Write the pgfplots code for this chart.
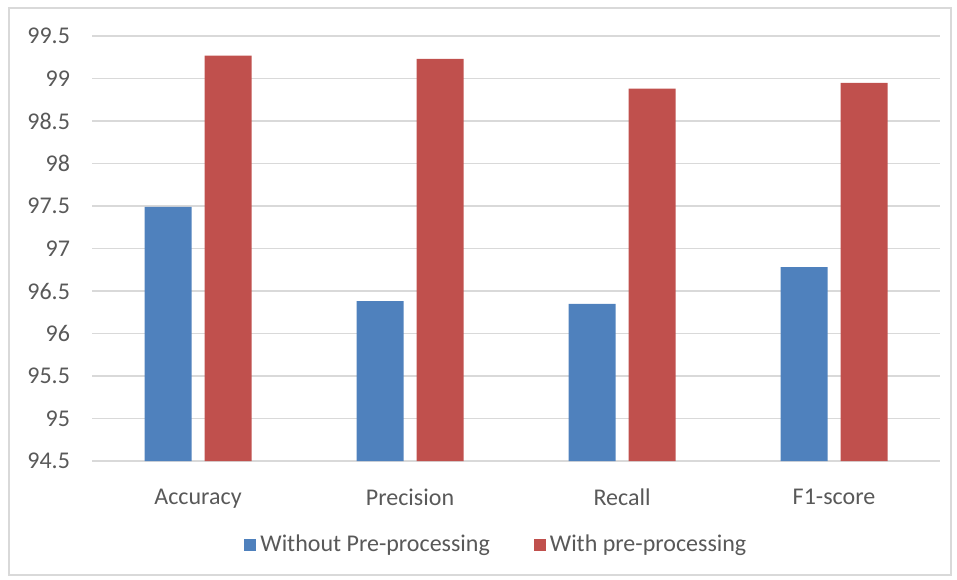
\documentclass[border=0pt]{standalone}
\usepackage{pgfplots}
\pgfplotsset{compat=1.18}
\usepackage{fontspec}
\setmainfont{Carlito}
\definecolor{cblue}{HTML}{4F81BD}
\definecolor{cred}{HTML}{C0504D}
\definecolor{cgrid}{HTML}{D9D9D9}
\definecolor{ctext}{HTML}{595959}
\begin{document}
\begin{tikzpicture}
\useasboundingbox (0,0) rectangle (478.5pt,289.5pt);
\draw[cgrid, line width=0.7pt] (4.5pt,2pt) rectangle (475.5pt,285.5pt);
\begin{axis}[
  at={(46pt,59pt)}, anchor=south west,
  scale only axis, width=424pt, height=212.5pt,
  ybar=6.5pt, bar width=23.5pt,
  xmin=-0.5, xmax=3.5, ymin=94.5, ymax=99.5,
  xtick={0,1,2,3},
  xticklabels={Accuracy,Precision,Recall,F1-score},
  ytick={94.5,95,95.5,96,96.5,97,97.5,98,98.5,99,99.5},
  /pgf/number format/assume math mode=true,
  tick style={draw=none},
  axis line style={draw=none},
  ymajorgrids, grid style={cgrid, line width=0.8pt},
  font=\fontsize{12}{14}\selectfont,
  ticklabel style={text=ctext},
  yticklabel style={xshift=-7.5pt},
  xticklabel style={yshift=-6pt},
  legend columns=2,
  legend style={at={(0.478,-0.198)}, anchor=center, draw=none, text=ctext,
    font=\fontsize{12}{14}\selectfont,
    /tikz/every even column/.append style={column sep=20pt}},
  legend image code/.code={\fill[#1] (-2pt,-3pt) rectangle (4pt,3pt);},
]
\addplot[fill=cblue, draw=none] coordinates {(0,97.49) (1,96.38) (2,96.35) (3,96.78)};
\addplot[fill=cred, draw=none] coordinates {(0,99.27) (1,99.23) (2,98.88) (3,98.95)};
\legend{Without Pre-processing, With pre-processing}
\end{axis}
\end{tikzpicture}
\end{document}
